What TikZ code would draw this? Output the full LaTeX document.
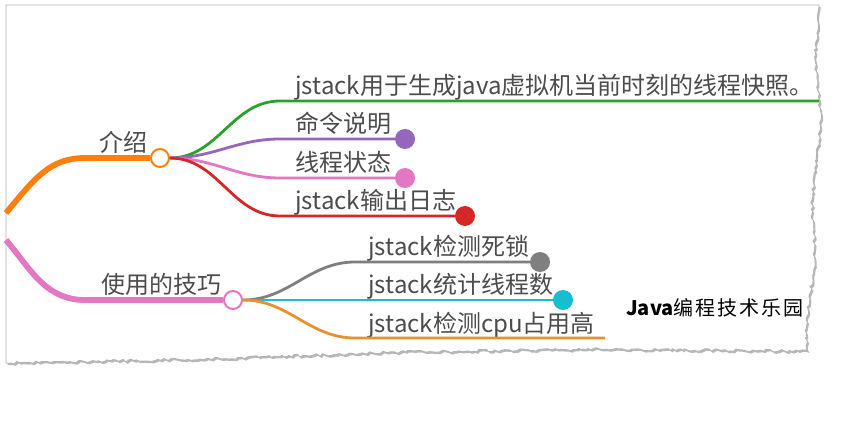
\documentclass[tikz,border=0pt]{standalone}
\usepackage{fontspec}
\setmainfont{Noto Sans CJK SC}
\newfontfamily\wmfont[LetterSpace=10]{Noto Sans CJK SC}
\usepackage{tikz}
\usetikzlibrary{decorations.pathmorphing}
\definecolor{mmOrange}{HTML}{FF7F0E}
\definecolor{mmGreen}{HTML}{2CA02C}
\definecolor{mmPurple}{HTML}{9467BD}
\definecolor{mmPink}{HTML}{E377C2}
\definecolor{mmRed}{HTML}{D62728}
\definecolor{mmGray}{HTML}{7F7F7F}
\definecolor{mmCyan}{HTML}{17BECF}
\definecolor{mmAmber}{HTML}{E8922F}

\begin{document}
\begin{tikzpicture}[x=1pt, y=-1pt, every node/.style={font=\fontsize{24}{28}\selectfont, text=black!70},
	main/.style={line width=5.8pt},
	sub/.style={line width=2.8pt},
	hub/.style={circle, draw, line width=2pt, fill=white, minimum size=18pt, inner sep=0pt},
	dot/.style={circle, minimum size=20pt, inner sep=0pt},
	leaf/.style={anchor=base west, inner sep=0pt},
	paper/.style={fill=white, draw=gray!60, line width=0.8pt, preaction={fill=black!28, transform canvas={shift={(1.6pt,-2pt)}}}}]
	\useasboundingbox (0,0) rectangle (850,427);
	\pgfmathsetseed{11}
	\draw[paper] (6,5) -- (819,5) decorate[decoration={random steps, segment length=3pt, amplitude=1.4pt}] {-- (815,60) -- (821,120) -- (812,200) -- (815,260) -- (805,330) -- (808,351) -- (600,349) -- (400,352) -- (200,359) -- (6,363)} -- cycle;

	\node[hub, draw=mmOrange] (intro) at (160,158) {};
	\node[hub, draw=mmPink] (tips) at (233,300) {};
	\node[anchor=base east, inner sep=0pt] at (148,152) {介绍};
	\node[anchor=base east, inner sep=0pt] at (222,294) {使用的技巧};
	\coordinate (o-in) at (6,213);
	\coordinate (p-in) at (6,240);
	\draw[main, mmOrange] (o-in) .. controls (35,178) and (50,158) .. (85,158) -- (intro.west);
	\draw[main, mmPink] (p-in) .. controls (30,268) and (45,300) .. (85,300) -- (tips.west);

	\node[dot, fill=mmPurple] (d-cmd) at (405,139) {};
	\node[dot, fill=mmPink] (d-state) at (405,178) {};
	\node[dot, fill=mmRed] (d-log) at (465,216) {};
	\node[dot, fill=mmGray] (d-lock) at (540,262) {};
	\node[dot, fill=mmCyan] (d-count) at (563,300) {};
	\coordinate (g-end) at (819,101);
	\coordinate (cpu-end) at (605,338);

	\node[leaf] at (295,95) {jstack用于生成java虚拟机当前时刻的线程快照。};
	\node[leaf] at (295,133) {命令说明};
	\node[leaf] at (295,172) {线程状态};
	\node[leaf] at (295,210) {jstack输出日志};
	\node[leaf] at (368,256) {jstack检测死锁};
	\node[leaf] at (368,294) {jstack统计线程数};
	\node[leaf] at (368,332) {jstack检测cpu占用高};

	\draw[sub, mmGreen] (intro.east) to[out=0, in=180] (280,101) -- (g-end);
	\draw[sub, mmPurple] (intro.east) to[out=0, in=180] (280,139) -- (d-cmd);
	\draw[sub, mmPink] (intro.east) to[out=0, in=180] (280,178) -- (d-state);
	\draw[sub, mmRed] (intro.east) to[out=0, in=180] (280,216) -- (d-log);
	\draw[sub, mmGray] (tips.east) to[out=0, in=180] (355,262) -- (d-lock);
	\draw[sub, mmCyan] (tips.east) -- (d-count);
	\draw[sub, mmAmber] (tips.east) to[out=0, in=180] (355,338) -- (cpu-end);

	\node[anchor=base west, inner sep=0pt, font=\fontsize{20}{24}\selectfont, text=black] (mark) at (626,315) {\textbf{Java}\wmfont 编程技术乐园};
\end{tikzpicture}
\end{document}
